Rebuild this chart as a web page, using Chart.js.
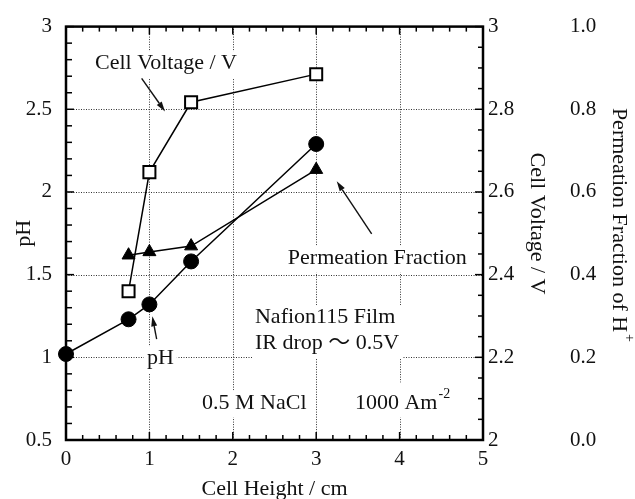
<!DOCTYPE html>
<html>
<head>
<meta charset="utf-8">
<script src="https://cdn.jsdelivr.net/npm/chart.js@4"></script>
<style>
  html, body { margin: 0; padding: 0; background: #fff; }
  #wrap { width: 635px; height: 499px; }
</style>
</head>
<body>
<div id="wrap"><canvas id="chart"></canvas></div>
<script>
// pH measured along the cell height
const phHeights = [0, 0.75, 1, 1.5, 3];
const phValues = [1.02, 1.23, 1.32, 1.58, 2.29];

// cell voltage and H+ permeation fraction, same runs
const runHeights = [0.75, 1, 1.5, 3];
const cellVoltage = [2.36, 2.648, 2.817, 2.885];
const permeationFraction = [0.447, 0.455, 0.469, 0.654];

// axis ticks
const heightTicks = [0, 1, 2, 3, 4, 5];
const phTicks = [0.5, 1, 1.5, 2, 2.5, 3];
const voltTicks = [2, 2.2, 2.4, 2.6, 2.8, 3];
const fracTicks = [0, 0.2, 0.4, 0.6, 0.8, 1];

// dotted grid positions
const gridHeights = [1, 2, 3, 4];
const gridPh = [1, 1.5, 2, 2.5];

// text notes, placed in (cm, pH) units; y is the first baseline
const notes = [
  { lines: ['Cell Voltage / V'], x: 0.348, y: 2.743 },
  { lines: ['Permeation Fraction'], x: 2.66, y: 1.566 },
  { lines: ['Nafion115 Film', 'IR drop \u301C 0.5V'], x: 2.266, y: 1.206 },
  { lines: ['pH'], x: 0.971, y: 0.959 },
  { lines: ['0.5 M NaCl'], x: 1.631, y: 0.690 },
  { lines: ['1000 Am'], sup: '-2', x: 3.465, y: 0.690 }
];

// arrows from note to curve, (cm, pH) units
const arrows = [
  { from: [0.907, 2.687], to: [1.187, 2.487] },
  { from: [3.665, 1.746], to: [3.246, 2.065] },
  { from: [1.087, 1.110], to: [1.035, 1.248] }
];

const serif = '"Liberation Serif", "Times New Roman", "Noto Sans CJK JP", serif';
const ink = '#111';
const noteFont = '22px ' + serif;
const supFont = '14px ' + serif;

const toPoints = (xs, ys) => xs.map((x, i) => ({ x, y: ys[i] }));
const fixTicks = list => scale => { scale.ticks = list.map(v => ({ value: v })); };
const plain = v => String(+Number(v).toFixed(2));

function strokeLine(ctx, x1, y1, x2, y2) {
  ctx.beginPath();
  ctx.moveTo(x1, y1);
  ctx.lineTo(x2, y2);
  ctx.stroke();
}

function drawArrow(ctx, x1, y1, x2, y2) {
  const ang = Math.atan2(y2 - y1, x2 - x1);
  const len = 10, half = 3;
  const bx = x2 - Math.cos(ang) * len, by = y2 - Math.sin(ang) * len;
  ctx.lineWidth = 1.4;
  strokeLine(ctx, x1, y1, bx, by);
  ctx.beginPath();
  ctx.moveTo(x2, y2);
  ctx.lineTo(bx + Math.sin(ang) * half, by - Math.cos(ang) * half);
  ctx.lineTo(bx - Math.sin(ang) * half, by + Math.cos(ang) * half);
  ctx.closePath();
  ctx.fill();
}

const decor = {
  id: 'decor',
  beforeDatasetsDraw(chart) {
    const { ctx, chartArea: a, scales } = chart;
    const sx = scales.x, sy = scales.y, sv = scales.yV;
    ctx.save();

    // dotted grid
    ctx.strokeStyle = '#333';
    ctx.lineWidth = 1;
    ctx.setLineDash([1, 1.5]);
    gridHeights.forEach(v => {
      const p = Math.round(sx.getPixelForValue(v)) + 0.5;
      strokeLine(ctx, p, a.top, p, a.bottom);
    });
    gridPh.forEach(v => {
      const p = Math.round(sy.getPixelForValue(v)) + 0.5;
      strokeLine(ctx, a.left, p, a.right, p);
    });
    ctx.setLineDash([]);

    // notes on white backing, cutting the grid
    ctx.font = noteFont;
    ctx.textBaseline = 'alphabetic';
    notes.forEach(n => {
      const left = sx.getPixelForValue(n.x);
      const base = sy.getPixelForValue(n.y);
      const lh = 26;
      let w = Math.max(...n.lines.map(t => ctx.measureText(t).width));
      if (n.sup) {
        ctx.font = supFont;
        w += ctx.measureText(n.sup).width + 2;
        ctx.font = noteFont;
      }
      const top = base - (n.sup ? 26 : 18);
      const bottom = base + lh * (n.lines.length - 1) + 9;
      ctx.fillStyle = '#fff';
      ctx.fillRect(left - 3, top, w + 6, bottom - top);
      ctx.fillStyle = ink;
      n.lines.forEach((t, i) => ctx.fillText(t, left, base + i * lh));
      if (n.sup) {
        const tw = ctx.measureText(n.lines[0]).width;
        ctx.font = supFont;
        ctx.fillText(n.sup, left + tw + 1, base - 11);
        ctx.font = noteFont;
      }
    });

    // arrows
    ctx.strokeStyle = ink;
    ctx.fillStyle = ink;
    arrows.forEach(ar => {
      drawArrow(ctx,
        sx.getPixelForValue(ar.from[0]), sy.getPixelForValue(ar.from[1]),
        sx.getPixelForValue(ar.to[0]), sy.getPixelForValue(ar.to[1]));
    });

    // inward tick marks
    ctx.strokeStyle = '#000';
    ctx.lineWidth = 1.5;
    for (let i = 0; i <= 25; i++) {
      const p = sx.getPixelForValue(i * 0.2);
      const len = i % 5 === 0 ? 8 : 5;
      strokeLine(ctx, p, a.bottom, p, a.bottom - len);
      strokeLine(ctx, p, a.top, p, a.top + len);
    }
    for (let i = 0; i <= 25; i++) {
      const p = sy.getPixelForValue(0.5 + i * 0.1);
      const len = i % 5 === 0 ? 8 : 6;
      strokeLine(ctx, a.left, p, a.left + len, p);
    }
    for (let i = 0; i <= 20; i++) {
      const p = sv.getPixelForValue(2 + i * 0.05);
      const len = i % 4 === 0 ? 8 : 5;
      strokeLine(ctx, a.right, p, a.right - len, p);
    }

    // frame
    ctx.lineWidth = 2.5;
    ctx.strokeRect(a.left, a.top, a.right - a.left, a.bottom - a.top);

    // right-hand axis titles, reading downwards
    ctx.fillStyle = ink;
    ctx.font = noteFont;
    ctx.textBaseline = 'alphabetic';
    ctx.textAlign = 'center';
    ctx.save();
    ctx.translate(531, 223.5);
    ctx.rotate(Math.PI / 2);
    ctx.fillText('Cell Voltage / V', 0, 0);
    ctx.restore();

    ctx.textAlign = 'left';
    const main = 'Permeation Fraction of H';
    const mw = ctx.measureText(main).width;
    ctx.save();
    ctx.translate(613, 224);
    ctx.rotate(Math.PI / 2);
    ctx.fillText(main, -mw / 2 - 4, 0);
    ctx.font = supFont;
    ctx.fillText('+', mw / 2 - 2, -12);
    ctx.restore();

    ctx.restore();
  }
};

const tickFont = { family: serif, size: 21 };
const titleFont = { family: serif, size: 22, lineHeight: 1 };

new Chart(document.getElementById('chart'), {
  type: 'scatter',
  data: {
    datasets: [
      {
        label: 'pH',
        data: toPoints(phHeights, phValues),
        yAxisID: 'y',
        showLine: true,
        borderColor: '#000',
        borderWidth: 1.5,
        pointStyle: 'circle',
        pointRadius: 7.5,
        pointBackgroundColor: '#000',
        pointBorderColor: '#000',
        pointBorderWidth: 1,
        clip: false
      },
      {
        label: 'Cell Voltage / V',
        data: toPoints(runHeights, cellVoltage),
        yAxisID: 'yV',
        showLine: true,
        borderColor: '#000',
        borderWidth: 1.5,
        pointStyle: 'rect',
        pointRadius: 8.5,
        pointBackgroundColor: '#fff',
        pointBorderColor: '#000',
        pointBorderWidth: 2,
        clip: false
      },
      {
        label: 'Permeation Fraction of H+',
        data: toPoints(runHeights, permeationFraction),
        yAxisID: 'yP',
        showLine: true,
        borderColor: '#000',
        borderWidth: 1.5,
        pointStyle: 'triangle',
        pointRadius: 7.5,
        pointBackgroundColor: '#000',
        pointBorderColor: '#000',
        pointBorderWidth: 1,
        clip: false
      }
    ]
  },
  options: {
    responsive: true,
    maintainAspectRatio: false,
    devicePixelRatio: 1,
    animation: false,
    layout: { padding: { top: 22, left: 0, right: 0, bottom: 0 } },
    plugins: {
      legend: { display: false },
      tooltip: { enabled: false }
    },
    scales: {
      x: {
        type: 'linear',
        position: 'bottom',
        min: 0,
        max: 5,
        afterBuildTicks: fixTicks(heightTicks),
        afterFit: s => { s.height = 59; },
        grid: { display: false, drawTicks: false },
        border: { display: false },
        ticks: { font: tickFont, color: ink, padding: 7, maxRotation: 0, callback: plain },
        title: {
          display: true,
          text: 'Cell Height / cm',
          font: titleFont,
          color: ink,
          padding: { top: 0, bottom: -1 }
        }
      },
      y: {
        type: 'linear',
        position: 'left',
        min: 0.5,
        max: 3,
        afterBuildTicks: fixTicks(phTicks),
        afterFit: s => { s.width = 66; },
        grid: { display: false, drawTicks: false },
        border: { display: false },
        ticks: { font: tickFont, color: ink, padding: 14, callback: plain },
        title: {
          display: true,
          text: 'pH',
          font: titleFont,
          color: ink,
          padding: { top: 13, bottom: 0 }
        }
      },
      yV: {
        type: 'linear',
        position: 'right',
        weight: 0,
        min: 2,
        max: 3,
        afterBuildTicks: fixTicks(voltTicks),
        afterFit: s => { s.width = 79; },
        grid: { display: false, drawTicks: false },
        border: { display: false },
        ticks: { font: tickFont, color: ink, padding: 5, callback: plain }
      },
      yP: {
        type: 'linear',
        position: 'right',
        weight: 1,
        min: 0,
        max: 1,
        afterBuildTicks: fixTicks(fracTicks),
        afterFit: s => { s.width = 73; },
        grid: { display: false, drawTicks: false },
        border: { display: false },
        ticks: { font: tickFont, color: ink, padding: 8, callback: v => Number(v).toFixed(1) }
      }
    }
  },
  plugins: [decor]
});
</script>
</body>
</html>
